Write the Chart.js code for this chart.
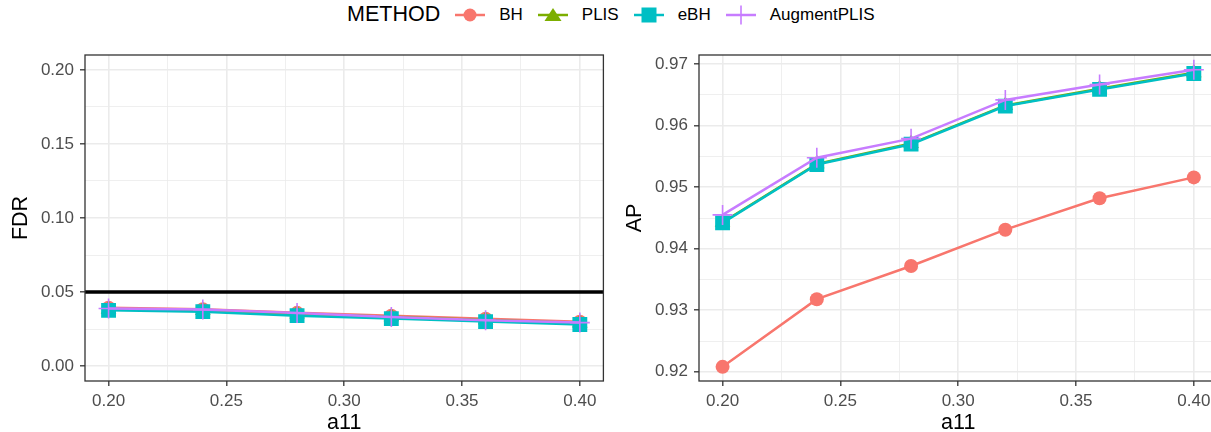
<!DOCTYPE html>
<html>
<head>
<meta charset="utf-8">
<script src="https://cdn.jsdelivr.net/npm/chart.js@4"></script>
<style>
  html, body { margin: 0; padding: 0; background: #fff; overflow: hidden; width: 1211px; height: 432px; }
  body { position: relative; font-family: "Liberation Sans", Arial, sans-serif; }
  .panel { position: absolute; top: 0; width: 615px; height: 432px; }
  #legend { position: absolute; left: 347px; top: 0; height: 29px; display: flex; align-items: center; white-space: nowrap; }
  #legend .title { font-size: 21.5px; color: #000; margin-right: 15px; }
  #legend .item { display: flex; align-items: center; margin-right: 15px; font-size: 17px; color: #000; }
  #legend svg { margin-right: 14px; }
</style>
</head>
<body>
<div id="legend"><span class="title">METHOD</span></div>
<div class="panel" style="left:0"><canvas id="fdrChart" width="615" height="432"></canvas></div>
<div class="panel" style="left:614px"><canvas id="apChart" width="615" height="432"></canvas></div>
<script>
// data
const a11 = [0.20, 0.24, 0.28, 0.32, 0.36, 0.40];
const methods = ["BH", "PLIS", "eBH", "AugmentPLIS"];

const fdrBH = [0.0395, 0.0385, 0.0360, 0.0340, 0.0320, 0.0300];
const fdrPLIS = [0.0385, 0.0375, 0.0352, 0.0333, 0.0312, 0.0292];
const fdrEBH = [0.0377, 0.0368, 0.0341, 0.0321, 0.0301, 0.0281];
const fdrAugment = [0.0389, 0.0382, 0.0359, 0.0332, 0.0310, 0.0294];

const apBH = [0.9208, 0.9318, 0.9372, 0.9431, 0.9482, 0.9516];
const apPLIS = [0.9443, 0.9538, 0.9571, 0.9633, 0.9660, 0.9686];
const apEBH = [0.9442, 0.9537, 0.9570, 0.9632, 0.9659, 0.9685];
const apAugment = [0.9455, 0.9548, 0.9579, 0.9642, 0.9667, 0.9691];

const FDR_LEVEL = 0.05;

// tick labels (major) and minor grid positions
const xMajor = [0.20, 0.25, 0.30, 0.35, 0.40];
const xMinor = [0.225, 0.275, 0.325, 0.375];
const fdrMajor = [0.00, 0.05, 0.10, 0.15, 0.20];
const fdrMinor = [0.025, 0.075, 0.125, 0.175];
const apMajor = [0.92, 0.93, 0.94, 0.95, 0.96, 0.97];
const apMinor = [0.925, 0.935, 0.945, 0.955, 0.965];

const colors = ["#F8766D", "#7CAE00", "#00BFC4", "#C77CFF"];
const shapes = ["circle", "triangle", "rect", "cross"];
const radii = [7, 9, 10.5, 10];

// legend
const legendEl = document.getElementById("legend");
const keySvg = [
  c => `<circle cx="15" cy="10" r="6.5" fill="${c}"/>`,
  c => `<polygon points="6.5,16 23.5,16 15,3" fill="${c}"/>`,
  c => `<rect x="7.5" y="2.5" width="15" height="15" fill="${c}"/>`,
  c => `<line x1="15" y1="0.5" x2="15" y2="19.5" stroke="${c}" stroke-width="1.6"/>`
];
methods.forEach((m, i) => {
  const item = document.createElement("span");
  item.className = "item";
  item.innerHTML = `<svg width="30" height="20" viewBox="0 0 30 20">` +
    `<line x1="0" y1="10" x2="30" y2="10" stroke="${colors[i]}" stroke-width="2.5"/>` +
    keySvg[i](colors[i]) + `</svg><span>${m}</span>`;
  legendEl.appendChild(item);
});

function isIn(list, v) {
  return list.some(t => Math.abs(t - v) < 1e-9);
}

function axis(major, minor, min, max, title, isX) {
  const all = major.concat(minor).sort((a, b) => a - b);
  return {
    type: "linear",
    min: min,
    max: max,
    afterBuildTicks: s => { s.ticks = all.map(v => ({ value: v })); },
    afterFit: s => { if (isX) s.height = 51; else s.width = 85; },
    ticks: {
      autoSkip: false,
      maxRotation: 0,
      padding: isX ? 5 : 6,
      color: "#4D4D4D",
      font: { size: 17, family: "'Liberation Sans', Arial, sans-serif" },
      callback: v => isIn(major, v) ? v.toFixed(2) : ""
    },
    grid: {
      color: "#EBEBEB",
      lineWidth: ctx => isIn(major, ctx.tick.value) ? 1.6 : 0.8,
      tickLength: 5,
      tickWidth: 1.3,
      tickColor: ctx => isIn(major, ctx.tick.value) ? "#333333" : "rgba(0,0,0,0)"
    },
    border: { display: false },
    title: {
      display: true,
      text: title,
      color: "#000",
      font: { size: 21.5, family: "'Liberation Sans', Arial, sans-serif" },
      padding: isX ? { top: 0, bottom: -4 } : { top: 8, bottom: 0 }
    }
  };
}

function makeDatasets(series) {
  return series.map((vals, i) => ({
    label: methods[i],
    data: a11.map((x, j) => ({ x: x, y: vals[j] })),
    borderColor: colors[i],
    backgroundColor: colors[i],
    borderWidth: 2.5,
    pointStyle: shapes[i],
    pointRadius: radii[i],
    pointBorderWidth: shapes[i] === "cross" ? 1.6 : 0,
    pointBackgroundColor: colors[i],
    pointBorderColor: colors[i],
    tension: 0,
    order: 4 - i
  }));
}

const framePlugin = {
  id: "frame",
  afterDraw(chart) {
    const a = chart.chartArea, c = chart.ctx;
    c.save();
    c.strokeStyle = "#333333";
    c.lineWidth = 1.3;
    c.strokeRect(a.left, a.top, a.right - a.left, a.bottom - a.top);
    c.restore();
  }
};

const hlinePlugin = {
  id: "hline",
  beforeDatasetsDraw(chart) {
    const a = chart.chartArea, c = chart.ctx;
    const y = chart.scales.y.getPixelForValue(FDR_LEVEL);
    c.save();
    c.strokeStyle = "#000";
    c.lineWidth = 3.5;
    c.beginPath();
    c.moveTo(a.left, y);
    c.lineTo(a.right, y);
    c.stroke();
    c.restore();
  }
};

function baseOptions(yAxis) {
  return {
    responsive: false,
    animation: false,
    layout: { padding: { top: 55, right: 7, left: 0, bottom: 0 } },
    plugins: { legend: { display: false }, tooltip: { enabled: false } },
    scales: {
      x: axis(xMajor, xMinor, 0.19, 0.41, "a11", true),
      y: yAxis
    }
  };
}

new Chart(document.getElementById("fdrChart").getContext("2d"), {
  type: "line",
  data: { datasets: makeDatasets([fdrBH, fdrPLIS, fdrEBH, fdrAugment]) },
  options: baseOptions(axis(fdrMajor, fdrMinor, -0.01, 0.21, "FDR", false)),
  plugins: [hlinePlugin, framePlugin]
});

new Chart(document.getElementById("apChart").getContext("2d"), {
  type: "line",
  data: { datasets: makeDatasets([apBH, apPLIS, apEBH, apAugment]) },
  options: baseOptions(axis(apMajor, apMinor, 0.9185, 0.9715, "AP", false)),
  plugins: [framePlugin]
});
</script>
</body>
</html>
